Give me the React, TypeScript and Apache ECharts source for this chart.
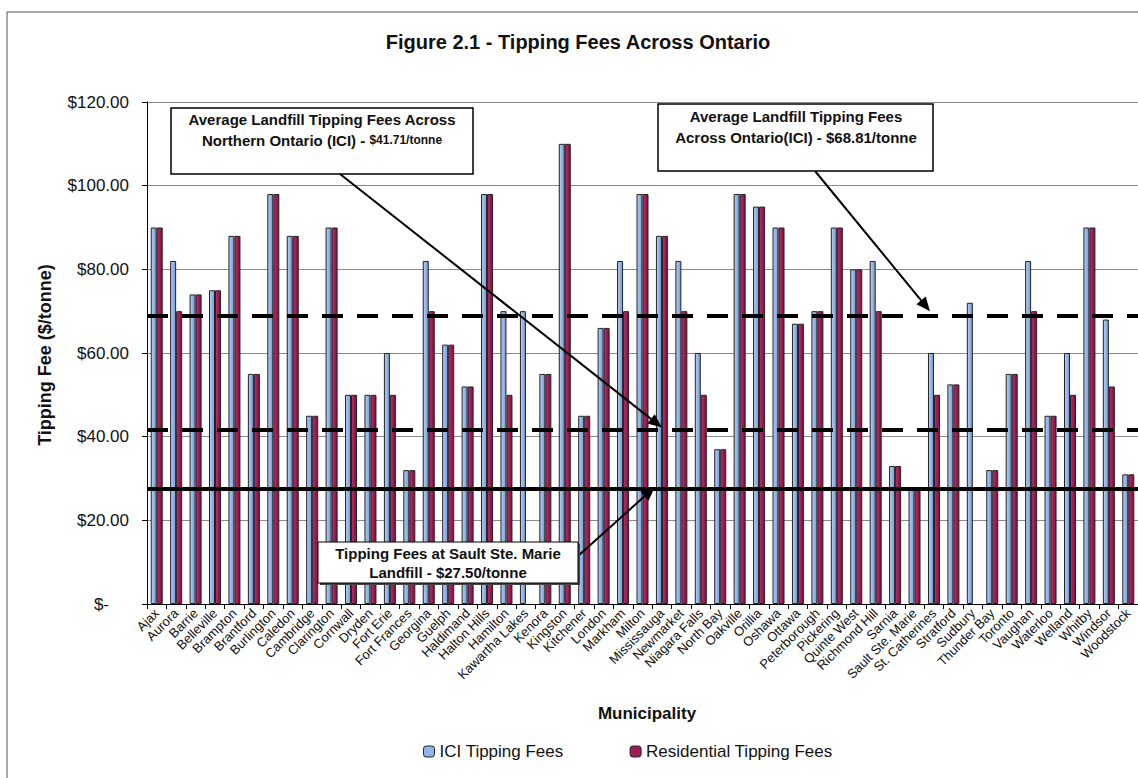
import React, { useEffect, useRef } from "react";
import * as echarts from "echarts";

// Municipalities along the x axis
const municipalities = [
  "Ajax", "Aurora", "Barrie", "Belleville", "Brampton", "Brantford", "Burlington", "Caledon",
  "Cambridge", "Clarington", "Cornwall", "Dryden", "Fort Erie", "Fort Frances", "Georgina",
  "Guelph", "Haldimand", "Halton Hills", "Hamilton", "Kawartha Lakes", "Kenora", "Kingston",
  "Kitchener", "London", "Markham", "Milton", "Mississauga", "Newmarket", "Niagara Falls",
  "North Bay", "Oakville", "Orillia", "Oshawa", "Ottawa", "Peterborough", "Pickering",
  "Quinte West", "Richmond Hill", "Sarnia", "Sault Ste. Marie", "St. Catherines", "Stratford",
  "Sudbury", "Thunder Bay", "Toronto", "Vaughan", "Waterloo", "Welland", "Whitby", "Windsor",
  "Woodstock",
];

// ICI tipping fees ($/tonne)
const iciFees = [
  90, 82, 74, 75, 88, 55, 98, 88, 45, 90, 50, 50, 60, 32, 82, 62, 52, 98, 70, 70, 55, 110,
  45, 66, 82, 98, 88, 82, 60, 37, 98, 95, 90, 67, 70, 90, 80, 82, 33, 27.5, 60, 52.5, 72,
  32, 55, 82, 45, 60, 90, 68, 31,
];

// Residential tipping fees ($/tonne); null where no residential fee is reported
const residentialFees = [
  90, 70, 74, 75, 88, 55, 98, 88, 45, 90, 50, 50, 50, 32, 70, 62, 52, 98, 50, null, 55, 110,
  45, 66, 70, 98, 88, 70, 50, 37, 98, 95, 90, 67, 70, 90, 80, 70, 33, 27.5, 50, 52.5, null,
  32, 55, 70, 45, 50, 90, 52, 31,
];

// Reference levels
const avgOntarioIci = 68.81;
const avgNorthernIci = 41.71;
const saultSteMarieFee = 27.5;

const yMin = 0;
const yMax = 120;
const yStep = 20;

const FONT = "'Liberation Sans', Arial, sans-serif";

function arrow(x1: number, y1: number, x2: number, y2: number) {
  const ang = Math.atan2(y2 - y1, x2 - x1);
  const len = 14;
  const half = 6;
  const bx = x2 - len * Math.cos(ang);
  const by = y2 - len * Math.sin(ang);
  const px = -Math.sin(ang) * half;
  const py = Math.cos(ang) * half;
  return [
    {
      type: "line",
      z: 50,
      shape: { x1, y1, x2: bx, y2: by },
      style: { stroke: "#000", lineWidth: 2 },
    },
    {
      type: "polygon",
      z: 50,
      shape: { points: [[x2, y2], [bx + px, by + py], [bx - px, by - py]] },
      style: { fill: "#000" },
    },
  ];
}

function boxText(x: number, y: number, text: string, rich?: any) {
  return {
    type: "text",
    z: 61,
    x,
    y,
    style: {
      text,
      fill: "#111",
      font: `bold 15px ${FONT}`,
      align: "center",
      verticalAlign: "middle",
      rich,
    },
  };
}

export default function App() {
  const ref = useRef<HTMLDivElement>(null);

  useEffect(() => {
    if (!ref.current) return;
    const chart = echarts.init(ref.current, null, { renderer: "svg" });

    const iciColor = new echarts.graphic.LinearGradient(0, 0, 1, 0, [
      { offset: 0, color: "#bcd2f4" },
      { offset: 0.5, color: "#92b4e8" },
      { offset: 1, color: "#7399d8" },
    ]);
    const resColor = new echarts.graphic.LinearGradient(0, 0, 1, 0, [
      { offset: 0, color: "#c0336a" },
      { offset: 0.5, color: "#a01c52" },
      { offset: 1, color: "#7e1040" },
    ]);

    chart.setOption({
      animation: false,
      backgroundColor: "#fff",
      textStyle: { fontFamily: FONT },
      grid: { left: 147, top: 102, width: 1000, height: 502, containLabel: false },
      legend: {
        left: 418,
        top: 738,
        itemWidth: 11,
        itemHeight: 11,
        itemGap: 66,
        textStyle: { fontSize: 17, color: "#111", fontFamily: FONT },
        data: [
          { name: "ICI Tipping Fees", itemStyle: { color: "#92b4e8", borderColor: "#222", borderWidth: 1 } },
          { name: "Residential Tipping Fees", itemStyle: { color: "#a01c52", borderColor: "#222", borderWidth: 1 } },
        ],
      },
      xAxis: {
        type: "category",
        data: municipalities,
        axisLine: { lineStyle: { color: "#000", width: 1 } },
        axisTick: { show: true, alignWithLabel: false, length: 5, lineStyle: { color: "#000" } },
        axisLabel: {
          interval: 0,
          rotate: 45,
          fontSize: 13,
          color: "#111",
          margin: 7,
          fontFamily: FONT,
        },
      },
      yAxis: {
        type: "value",
        min: yMin,
        max: yMax,
        interval: yStep,
        axisLine: { show: true, lineStyle: { color: "#000", width: 1 } },
        axisTick: { show: true, inside: false, length: 5, lineStyle: { color: "#000" } },
        axisLabel: {
          fontSize: 17,
          color: "#111",
          margin: 18,
          fontFamily: FONT,
          formatter: (v: number) => (v === 0 ? "{z|$-}" : `$${v.toFixed(2)}`),
          rich: { z: { fontSize: 17, color: "#111", padding: [0, 20, 0, 0], fontFamily: FONT } },
        },
        splitLine: { show: true, lineStyle: { color: "#8a8a8a", width: 1 } },
      },
      series: [
        {
          name: "ICI Tipping Fees",
          type: "bar",
          data: iciFees,
          barWidth: 6,
          barGap: "0%",
          itemStyle: { color: iciColor, borderColor: "#222", borderWidth: 1 },
          markLine: {
            silent: true,
            symbol: "none",
            label: { show: false },
            z: 20,
            data: [
              { yAxis: avgOntarioIci, lineStyle: { type: [21, 14], width: 4, color: "#000" } },
              { yAxis: avgNorthernIci, lineStyle: { type: [21, 14], width: 4, color: "#000" } },
              { yAxis: saultSteMarieFee, lineStyle: { type: "solid", width: 4, color: "#000" } },
            ],
          },
        },
        {
          name: "Residential Tipping Fees",
          type: "bar",
          data: residentialFees,
          barWidth: 6,
          barGap: "0%",
          itemStyle: { color: resColor, borderColor: "#222", borderWidth: 1 },
        },
      ],
    });

    const px = (cat: string, v: number) =>
      chart.convertToPixel({ gridIndex: 0 }, [cat, v]) as number[];
    const tipNorth = px("Mississauga", avgNorthernIci);
    const tipOntario = px("St. Catherines", avgOntarioIci);
    const tipSault = px("Mississauga", saultSteMarieFee);

    chart.setOption({
      graphic: [
        // outer frame
        {
          type: "rect",
          z: 1,
          shape: { x: 7, y: 12, width: 1200, height: 800 },
          style: { fill: "none", stroke: "#555", lineWidth: 1 },
        },
        {
          type: "text",
          x: 578,
          y: 42,
          style: {
            text: "Figure 2.1 - Tipping Fees Across Ontario",
            font: `bold 20px ${FONT}`,
            fill: "#111",
            align: "center",
            verticalAlign: "middle",
          },
        },
        {
          type: "text",
          x: 45,
          y: 355,
          rotation: Math.PI / 2,
          style: {
            text: "Tipping Fee ($/tonne)",
            font: `bold 18px ${FONT}`,
            fill: "#111",
            align: "center",
            verticalAlign: "middle",
          },
        },
        {
          type: "text",
          x: 647,
          y: 713,
          style: {
            text: "Municipality",
            font: `bold 17px ${FONT}`,
            fill: "#111",
            align: "center",
            verticalAlign: "middle",
          },
        },
        // Northern Ontario average callout
        ...arrow(340, 174, tipNorth[0], tipNorth[1] - 2),
        {
          type: "rect",
          z: 60,
          shape: { x: 171, y: 108, width: 302, height: 66 },
          style: { fill: "#fff", stroke: "#000", lineWidth: 1.5 },
        },
        boxText(322, 119, "Average Landfill Tipping Fees Across"),
        boxText(322, 140, "{a|Northern Ontario (ICI) - }{b|$41.71/tonne}", {
          a: { font: `bold 15px ${FONT}`, fill: "#111" },
          b: { font: `bold 12px ${FONT}`, fill: "#111" },
        }),
        // Ontario average callout
        ...arrow(815, 171, tipOntario[0] - 4, tipOntario[1] - 5),
        {
          type: "rect",
          z: 60,
          shape: { x: 658, y: 104, width: 275, height: 67 },
          style: { fill: "#fff", stroke: "#000", lineWidth: 1.5 },
        },
        boxText(796, 116, "Average Landfill Tipping Fees"),
        boxText(796, 137, "Across Ontario(ICI) - $68.81/tonne"),
        // Sault Ste. Marie callout
        ...arrow(578, 556, tipSault[0] - 7, tipSault[1] - 2),
        {
          type: "rect",
          z: 59,
          shape: { x: 320, y: 544, width: 260, height: 41 },
          style: { fill: "#444" },
        },
        {
          type: "rect",
          z: 60,
          shape: { x: 318, y: 542, width: 260, height: 41 },
          style: { fill: "#fff", stroke: "#000", lineWidth: 1 },
        },
        boxText(448, 553, "Tipping Fees at Sault Ste. Marie"),
        boxText(448, 572, "Landfill - $27.50/tonne"),
      ],
    });

    return () => chart.dispose();
  }, []);

  return (
    <div
      ref={ref}
      style={{ position: "fixed", left: 0, top: 0, width: 1138, height: 778, background: "#fff" }}
    />
  );
}
